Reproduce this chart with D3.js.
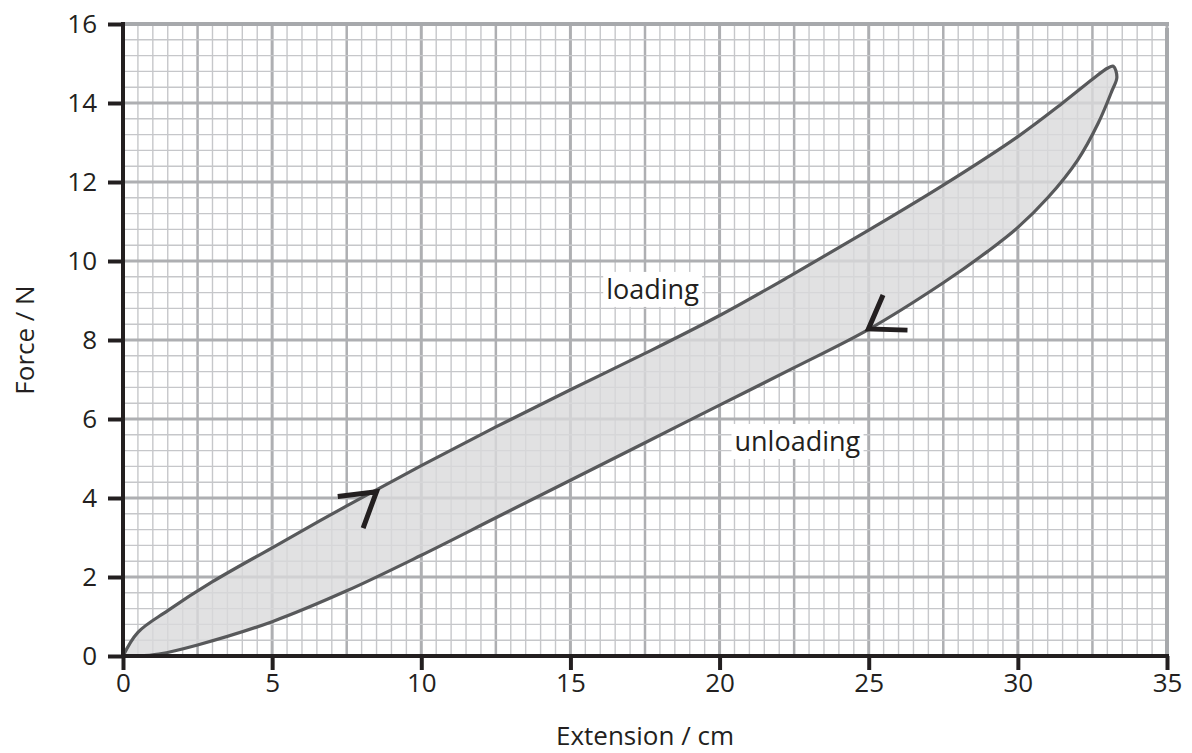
<!DOCTYPE html>
<html>
<head>
<meta charset="utf-8">
<script src="https://cdn.jsdelivr.net/npm/d3@7"></script>
<style>
  html, body { margin: 0; padding: 0; background: #fff; }
  svg { display: block; font-family: "Open Sans", "Noto Sans", sans-serif; }
</style>
</head>
<body>
<svg id="chart" width="1192" height="753"></svg>
<script>
// ---- data ----
const loadingX   = [0, 0.5, 1.5, 3, 5, 7.5, 10, 12.5, 15, 17.5, 20, 22.5, 25, 27.5, 30, 31.5, 32.5, 33.0, 33.2];
const loadingY   = [0, 0.6, 1.15, 1.88, 2.74, 3.8, 4.82, 5.8, 6.74, 7.66, 8.62, 9.68, 10.78, 11.92, 13.15, 14.0, 14.6, 14.88, 14.93];
const unloadingX = [33.32, 33.15, 32.7, 32, 31, 30, 29, 27.5, 25, 22.5, 20, 17.5, 15, 12.5, 10, 7.5, 5, 2.5, 1.2, 0.5];
const unloadingY = [14.65, 14.3, 13.5, 12.55, 11.6, 10.85, 10.25, 9.45, 8.27, 7.3, 6.35, 5.4, 4.45, 3.5, 2.55, 1.65, 0.87, 0.28, 0.05, 0];
const xTicks = [0, 5, 10, 15, 20, 25, 30, 35];
const yTicks = [0, 2, 4, 6, 8, 10, 12, 14, 16];
const xTitle = "Extension / cm";
const yTitle = "Force / N";
const labelTexts = ["loading", "unloading"];
const labelX = [16.2, 20.5];
const labelY = [9.04, 5.19];
// arrows: [arm end 1, tip, arm end 2] in data units
const arrowTipX = [8.5, 24.99];
const arrowTipY = [4.16, 8.28];
const arrowArm1X = [7.2, 26.3];
const arrowArm1Y = [4.04, 8.25];
const arrowArm2X = [8.05, 25.48];
const arrowArm2Y = [3.24, 9.14];

// ---- layout ----
const W = 1192, H = 753;
const margin = {left: 123, right: 25, top: 24, bottom: 97};
const svg = d3.select("#chart");
const x = d3.scaleLinear().domain([0, 35]).range([margin.left, W - margin.right]);
const y = d3.scaleLinear().domain([0, 16]).range([H - margin.bottom, margin.top]);
const axisColor = "#231f20";

// ---- grid ----
const grid = svg.append("g");
const xMinor = d3.range(0, 35.001, 0.5);
const yMinor = d3.range(0, 16.001, 0.4);
function isMult(v, m) { return Math.abs(v / m - Math.round(v / m)) < 1e-6; }
grid.selectAll("line.vx").data(xMinor).join("line")
  .attr("x1", d => x(d)).attr("x2", d => x(d))
  .attr("y1", y(0)).attr("y2", y(16))
  .attr("stroke", d => isMult(d, 2.5) ? "#aeafb2" : "#c6c7ca")
  .attr("stroke-width", d => isMult(d, 5) ? 3 : isMult(d, 2.5) ? 2.5 : 1.4);
grid.selectAll("line.hy").data(yMinor).join("line")
  .attr("y1", d => y(d)).attr("y2", d => y(d))
  .attr("x1", x(0)).attr("x2", x(35))
  .attr("stroke", d => isMult(d, 2) ? "#aeafb2" : "#c6c7ca")
  .attr("stroke-width", d => isMult(d, 2) ? 3 : 1.4);
// top and right border
grid.append("line").attr("x1", x(0)).attr("x2", x(35) + 2).attr("y1", y(16)).attr("y2", y(16))
  .attr("stroke", "#a7a9ac").attr("stroke-width", 4);
grid.append("line").attr("x1", x(35)).attr("x2", x(35)).attr("y1", y(16) + 4).attr("y2", y(0))
  .attr("stroke", "#a7a9ac").attr("stroke-width", 4);

// ---- loop ----
const loopPts = loadingX.map((v, i) => [v, loadingY[i]])
  .concat(unloadingX.map((v, i) => [v, unloadingY[i]]));
const line = d3.line().x(d => x(d[0])).y(d => y(d[1])).curve(d3.curveCatmullRom.alpha(0.5));
svg.append("path").attr("d", line(loopPts) + "Z")
  .attr("fill", "#d9d9db").attr("fill-opacity", 0.8).attr("stroke", "none");
svg.append("path").attr("d", line(loopPts))
  .attr("fill", "none").attr("stroke", "#58595b").attr("stroke-width", 3.2)
  .attr("stroke-linejoin", "round").attr("stroke-linecap", "round");

// ---- axes ----
const xAxis = svg.append("g").attr("transform", `translate(0,${y(0)})`)
  .call(d3.axisBottom(x).tickValues(xTicks).tickSize(14).tickPadding(4).tickSizeOuter(0));
const yAxis = svg.append("g").attr("transform", `translate(${x(0)},0)`)
  .call(d3.axisLeft(y).tickValues(yTicks).tickSize(15).tickPadding(11).tickSizeOuter(0));
[xAxis, yAxis].forEach(g => {
  g.select(".domain").attr("stroke", axisColor).attr("stroke-width", 4);
  g.selectAll(".tick line").attr("stroke", axisColor).attr("stroke-width", 4);
  g.selectAll(".tick text").attr("fill", axisColor)
    .style("font-size", "26px").style("font-family", "'Open Sans', sans-serif");
});
xAxis.select(".domain").attr("d", `M${x(0) - 2},0H${x(35) + 2}`);
yAxis.select(".domain").attr("d", `M0,${y(0) + 2}V${y(16) - 2}`);

// axis titles
svg.append("text").attr("x", (x(0) + x(35)) / 2).attr("y", 745)
  .attr("text-anchor", "middle").attr("fill", axisColor)
  .style("font-size", "26px").text(xTitle);
svg.append("text").attr("transform", `translate(34,${(y(0) + y(16)) / 2}) rotate(-90)`)
  .attr("text-anchor", "middle").attr("fill", axisColor)
  .style("font-size", "26px").text(yTitle);

// ---- arrows ----
const arrows = arrowTipX.map((v, i) => [
  [arrowArm1X[i], arrowArm1Y[i]], [v, arrowTipY[i]], [arrowArm2X[i], arrowArm2Y[i]]
]);
svg.selectAll("path.arrow").data(arrows).join("path")
  .attr("class", "arrow")
  .attr("d", d3.line().x(d => x(d[0])).y(d => y(d[1])))
  .attr("fill", "none").attr("stroke", axisColor).attr("stroke-width", 5)
  .attr("stroke-linejoin", "miter").attr("stroke-linecap", "butt");

// ---- labels ----
labelTexts.forEach((t, i) => {
  const g = svg.append("g");
  const txt = g.append("text").attr("x", x(labelX[i])).attr("y", y(labelY[i]))
    .attr("fill", axisColor).style("font-size", "27px").text(t);
  const bb = txt.node().getBBox();
  g.insert("rect", "text").attr("x", bb.x - 3).attr("y", bb.y + 2)
    .attr("width", bb.width + 6).attr("height", bb.height - 2).attr("fill", "#fff");
});
</script>
</body>
</html>
